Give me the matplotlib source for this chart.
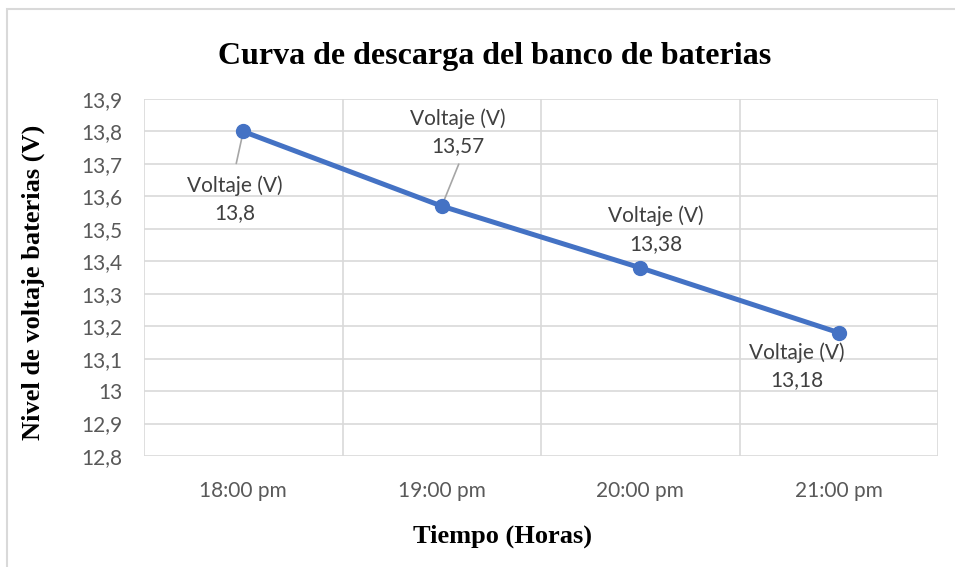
import matplotlib
matplotlib.use("Agg")
import matplotlib.pyplot as plt
from matplotlib.patches import Rectangle

# Data
horas = ["18:00 pm", "19:00 pm", "20:00 pm", "21:00 pm"]
voltaje = [13.8, 13.57, 13.38, 13.18]
serie = "Voltaje (V)"
y_ticks = [12.8, 12.9, 13.0, 13.1, 13.2, 13.3, 13.4, 13.5, 13.6, 13.7, 13.8, 13.9]

def fmt(v):
    s = f"{v:.2f}".rstrip("0").rstrip(".")
    return s.replace(".", ",")

W, H = 955, 567
fig = plt.figure(figsize=(W / 100, H / 100), dpi=100)
fig.patch.set_facecolor("white")

# light chart-area frame
fig.add_artist(Rectangle((7 / W, -0.01), 1.1, (H - 9) / H + 0.01,
                         transform=fig.transFigure, fill=False,
                         edgecolor="#D9D9D9", linewidth=1.5))

ax = fig.add_axes([144 / W, 1 - 456 / H, (938 - 144) / W, (456 - 99) / H])
x = list(range(len(horas)))

ax.set_xlim(-0.5, len(horas) - 0.5)
ax.set_ylim(12.8, 13.9)
ax.set_yticks(y_ticks)
ax.set_yticklabels([fmt(t) for t in y_ticks])
ax.set_xticks(x)
ax.set_xticklabels(horas)

# grid: horizontal at value ticks, vertical at category boundaries
for t in y_ticks:
    ax.axhline(t, color="#D9D9D9", linewidth=1.2, zorder=0)
for b in [i - 0.5 for i in range(len(horas) + 1)]:
    ax.axvline(b, color="#D9D9D9", linewidth=1.2, zorder=0)
for s in ax.spines.values():
    s.set_visible(False)
ax.tick_params(length=0, colors="#595959", labelsize=15)
for lab in ax.get_xticklabels() + ax.get_yticklabels():
    lab.set_fontfamily("Lato")
ax.tick_params(axis="x", pad=18)
ax.tick_params(axis="y", pad=15.5)

ax.plot(x, voltaje, color="#4472C4", linewidth=3.6, marker="o",
        markersize=10, solid_capstyle="round", zorder=3)

# data labels: (dx, dy) offset in pixels, and leader-line end offset (or None)
offsets = [(-8, -68, (-7, -32)), (16, 74, (17, 42)),
           (16, 38, None), (-42, -34, None)]
for xi, v, (dx, dy, leader) in zip(x, voltaje, offsets):
    ax.annotate(f"{serie}\n{fmt(v)}", xy=(xi, v), xytext=(dx, dy),
                textcoords="offset pixels", ha="center", va="center",
                multialignment="center", fontsize=15, family="Lato",
                color="#404040", linespacing=1.45, zorder=4)
    if leader is not None:
        ax.annotate("", xy=(xi, v), xytext=leader, textcoords="offset pixels",
                    arrowprops=dict(arrowstyle="-", color="#A6A6A6",
                                    linewidth=1.2, shrinkA=0, shrinkB=0),
                    zorder=2)

fig.text(495 / W, 1 - 57 / H, "Curva de descarga del banco de baterias",
         ha="center", va="center", family="Liberation Serif",
         fontweight="bold", fontsize=23)
fig.text(502 / W, 1 - 536 / H, "Tiempo (Horas)", ha="center", va="center",
         family="Liberation Serif", fontweight="bold", fontsize=19)
fig.text(33 / W, 1 - 282 / H, "Nivel de voltaje baterias (V)", ha="center",
         va="center", rotation=90, family="Liberation Serif",
         fontweight="bold", fontsize=19)

fig.savefig("out.png", dpi=100)
